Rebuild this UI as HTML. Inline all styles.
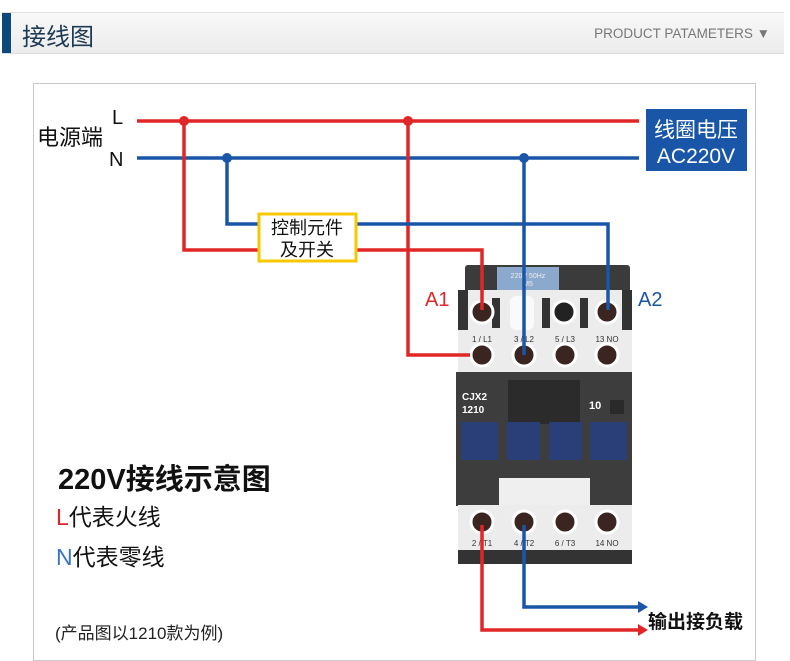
<!DOCTYPE html>
<html><head><meta charset="utf-8"><style>
body{margin:0;width:790px;height:661px;background:#fff;overflow:hidden;position:relative;font-family:"Liberation Sans","Noto Sans CJK SC",sans-serif}
.hdr{position:absolute;left:2px;top:12px;width:782px;height:40px;background:linear-gradient(#f8f8f8,#ececec);border-top:1px solid #e0e0e0;border-bottom:1px solid #ddd}
.bar{position:absolute;left:0;top:0;width:9px;height:40px;background:#0c4878}
.t{position:absolute;left:20px;top:4px;font-size:24px;color:#1d3a55}
.p{position:absolute;right:14px;top:13px;font-size:13.5px;color:#777}
</style></head><body>
<div class="hdr"><div class="bar"></div><div class="t">接线图</div><div class="p">PRODUCT PATAMETERS ▼</div></div>
<svg width="790" height="661" style="position:absolute;left:0;top:0" font-family="Liberation Sans, Noto Sans CJK SC, sans-serif">
<rect x="33.5" y="83.5" width="722" height="577" fill="none" stroke="#c8c8c8"/>
<!-- contactor -->
<rect x="465" y="265" width="165" height="40" rx="3" fill="#3b3b3b"/>
<rect x="497" y="267" width="62" height="23" fill="#8aa9cc"/>
<text x="528" y="278" font-size="7" fill="#eee" text-anchor="middle">220V 50Hz</text>
<text x="528" y="286" font-size="7" fill="#eee" text-anchor="middle">M5</text>
<rect x="458" y="290" width="174" height="83" fill="#ececec"/>
<rect x="458" y="290" width="10" height="40" fill="#333"/><rect x="622" y="290" width="10" height="40" fill="#333"/>
<rect x="492" y="298" width="8" height="30" fill="#333"/><rect x="542" y="298" width="8" height="30" fill="#333"/><rect x="580" y="298" width="8" height="30" fill="#333"/>
<rect x="510" y="296" width="24" height="34" rx="6" fill="#fafafa"/>
<rect x="456" y="372" width="176" height="134" fill="#3d3d3d"/>
<rect x="508" y="380" width="72" height="44" fill="#2b2b2b"/>
<text x="462" y="400" font-size="10" fill="#fff" font-weight="bold">CJX2</text>
<text x="462" y="413" font-size="10" fill="#fff" font-weight="bold">1210</text>
<text x="589" y="409" font-size="11" fill="#fff" font-weight="bold">10</text>
<rect x="610" y="400" width="14" height="14" fill="#2a2a2a"/>
<g fill="#2a3f78"><rect x="461" y="422" width="37" height="38"/><rect x="507" y="422" width="33" height="38"/><rect x="549" y="422" width="33" height="38"/><rect x="590" y="422" width="37" height="38"/></g>
<rect x="499" y="478" width="91" height="27" fill="#efefef"/>
<rect x="458" y="505" width="174" height="45" fill="#ececec"/>
<rect x="458" y="550" width="174" height="14" fill="#333"/>
<g fill="#3a2520" stroke="#fff" stroke-width="3">
<circle cx="482" cy="312" r="11"/><circle cx="564" cy="312" r="11" fill="#222"/><circle cx="607" cy="312" r="11"/>
<circle cx="482" cy="355" r="11"/><circle cx="524" cy="355" r="11"/><circle cx="565" cy="355" r="11"/><circle cx="607" cy="355" r="11"/>
<circle cx="482" cy="522" r="11"/><circle cx="524" cy="522" r="11"/><circle cx="565" cy="522" r="11"/><circle cx="607" cy="522" r="11"/>
</g>
<g font-size="8" fill="#333" text-anchor="middle">
<text x="482" y="342">1 / L1</text><text x="524" y="342">3 / L2</text><text x="565" y="342">5 / L3</text><text x="607" y="342">13 NO</text>
<text x="482" y="546">2 / T1</text><text x="524" y="546">4 / T2</text><text x="565" y="546">6 / T3</text><text x="607" y="546">14 NO</text>
</g>
<!-- wires -->
<g fill="none" stroke-width="3.5">
<path d="M137 121H639" stroke="#e02626"/>
<path d="M137 158H639" stroke="#1a56a8"/>
<path d="M184 121V250H482V310" stroke="#e02626"/>
<path d="M408 121V355H470" stroke="#e02626"/>
<path d="M227 158V224H608V310" stroke="#1a56a8"/>
<path d="M524 158V355" stroke="#1a56a8"/>
<path d="M524 525V607H640" stroke="#1a56a8"/>
<path d="M482 525V630H640" stroke="#e02626"/>
</g>
<polygon points="638,601 648,607 638,613" fill="#1a56a8"/>
<polygon points="638,624 648,630 638,636" fill="#e02626"/>
<circle cx="184" cy="121" r="5" fill="#e02626"/><circle cx="408" cy="121" r="5" fill="#e02626"/>
<circle cx="227" cy="158" r="5" fill="#1a56a8"/><circle cx="524" cy="158" r="5" fill="#1a56a8"/>
<rect x="259" y="214" width="97" height="47" fill="#fff" stroke="#f5c800" stroke-width="3"/>
<text x="307" y="234" font-size="18" text-anchor="middle" fill="#111">控制元件</text>
<text x="307" y="256" font-size="18" text-anchor="middle" fill="#111">及开关</text>
<text x="37" y="145" font-size="22" fill="#111">电源端</text>
<text x="112" y="124" font-size="20" fill="#111">L</text>
<text x="109" y="166" font-size="20" fill="#111">N</text>
<rect x="646" y="109" width="101" height="62" fill="#1a56a8"/>
<text x="696" y="137" font-size="21" fill="#fff" text-anchor="middle">线圈电压</text>
<text x="696" y="163" font-size="21" fill="#fff" text-anchor="middle">AC220V</text>
<text x="425" y="306" font-size="20" fill="#e02626">A1</text>
<text x="638" y="306" font-size="20" fill="#1a56a8">A2</text>
<text x="648" y="628" font-size="19" fill="#111" font-weight="bold">输出接负载</text>
<text x="58" y="489" font-size="29" font-weight="bold" fill="#111">220V接线示意图</text>
<text x="56" y="525" font-size="23" fill="#111"><tspan fill="#e02626">L</tspan>代表火线</text>
<text x="56" y="565" font-size="23" fill="#111"><tspan fill="#3a73c4">N</tspan>代表零线</text>
<text x="55" y="639" font-size="17" fill="#222">(产品图以1210款为例)</text>
</svg>
</body></html>
